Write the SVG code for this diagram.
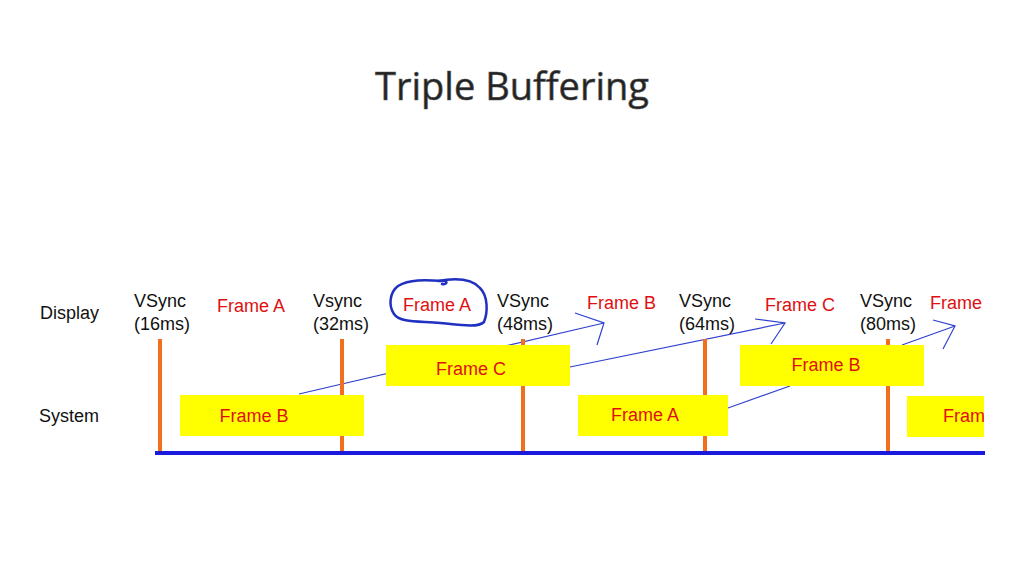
<svg xmlns="http://www.w3.org/2000/svg" width="1024" height="576" viewBox="0 0 1024 576">
<style>
.t{font-family:"Liberation Sans",Arial,sans-serif;font-size:18px;fill:#111}
.r{font-family:"Liberation Sans",Arial,sans-serif;font-size:18px;fill:#e01010}
.box{fill:#ffff00}
.vs{stroke:#f07020;stroke-width:4}
.conn{stroke:#3040d0;stroke-width:1.2;fill:none}
</style>
<rect width="1024" height="576" fill="#fff"/>
<text x="512" y="100" text-anchor="middle" font-family="'Open Sans','Noto Sans',sans-serif" font-size="38" fill="#222" stroke="#555" stroke-width="0.6">Triple Buffering</text>
<g id="labels">
<text class="t" x="40" y="319">Display</text>
<text class="t" x="39" y="422">System</text>
</g>
<g id="connectors">
<line class="conn" x1="299" y1="394" x2="604" y2="323"/>
<polyline class="conn" points="575,313 604,323 597,345"/>
<line class="conn" x1="570" y1="367" x2="785" y2="323"/>
<polyline class="conn" points="755,319 785,323 771,344"/>
<line class="conn" x1="728" y1="408" x2="790" y2="386"/>
<line class="conn" x1="902" y1="345" x2="955" y2="326"/>
<polyline class="conn" points="933,320 955,326 943,349"/>
</g>
<g id="vsync-lines">
<line class="vs" x1="160" y1="339" x2="160" y2="452"/>
<line class="vs" x1="342" y1="339" x2="342" y2="452"/>
<line class="vs" x1="523" y1="339" x2="523" y2="452"/>
<line class="vs" x1="705" y1="339" x2="705" y2="452"/>
<line class="vs" x1="888" y1="339" x2="888" y2="452"/>
</g>
<g id="sys-frameB"><rect class="box" x="180" y="395" width="184" height="41"/><text class="r" x="254" y="422" text-anchor="middle">Frame B</text></g>
<g id="disp-frameC"><rect class="box" x="386" y="345" width="184" height="41"/><text class="r" x="471" y="375" text-anchor="middle">Frame C</text></g>
<g id="sys-frameA"><rect class="box" x="578" y="395" width="150" height="41"/><text class="r" x="645" y="421" text-anchor="middle">Frame A</text></g>
<g id="disp-frameB"><rect class="box" x="740" y="345" width="184" height="41"/><text class="r" x="826" y="371" text-anchor="middle">Frame B</text></g>
<g id="sys-fram"><rect class="box" x="907" y="396" width="77" height="41"/><text class="r" x="943" y="422">Fram</text></g>
<line x1="155" y1="453" x2="985" y2="453" stroke="#1a1adc" stroke-width="4"/>
<g id="vsync16"><text class="t" x="134" y="307">VSync</text><text class="t" x="134" y="330">(16ms)</text></g>
<g id="vsync32"><text class="t" x="313" y="307">Vsync</text><text class="t" x="313" y="330">(32ms)</text></g>
<g id="vsync48"><text class="t" x="497" y="307">VSync</text><text class="t" x="497" y="330">(48ms)</text></g>
<g id="vsync64"><text class="t" x="679" y="307">VSync</text><text class="t" x="679" y="330">(64ms)</text></g>
<g id="vsync80"><text class="t" x="860" y="307">VSync</text><text class="t" x="860" y="330">(80ms)</text></g>
<g id="disp-labels">
<text class="r" x="217" y="312">Frame A</text>
<text class="r" x="403" y="311">Frame A</text>
<text class="r" x="587" y="309">Frame B</text>
<text class="r" x="765" y="311">Frame C</text>
<text class="r" x="930" y="309">Frame</text>
</g>
<path d="M438,281 C455,278 472,279 480,288 C488,296 488,312 484,322 C478,328 460,325 440,323 C420,321 400,323 394,314 C388,305 390,292 398,286 C410,279 425,280 445,281 C448,282 446,285 442,284" fill="none" stroke="#2030c0" stroke-width="2.5" stroke-linecap="round"/>
</svg>
